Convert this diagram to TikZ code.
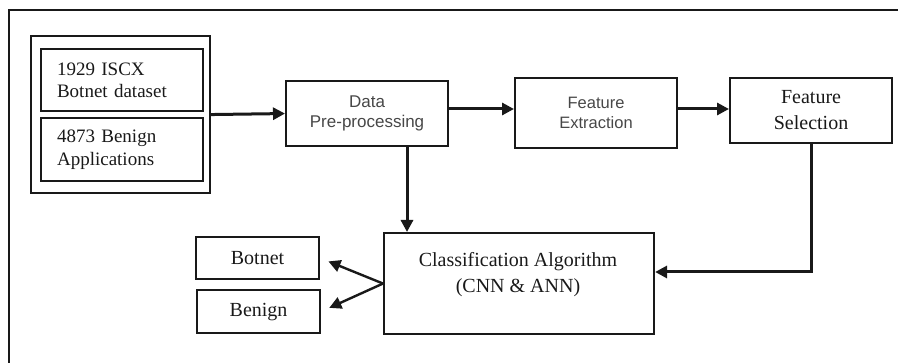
\documentclass[tikz,border=0pt]{standalone}
\usepackage{fontspec}
\setmainfont{Liberation Serif}
\newfontfamily\arialfont{Liberation Sans}
\usetikzlibrary{arrows.meta}

\begin{document}
\begin{tikzpicture}[x=1pt,y=-1pt,
  box/.style={draw=black!90, line width=2.1pt, anchor=north west, inner sep=0pt, align=center},
  link/.style={line width=3pt, draw=black!90, -{Triangle[length=12pt,width=12pt]}},
  serif/.style={font=\fontsize{20}{26}\selectfont, text=black!90},
  sans/.style={font=\arialfont\fontsize{16.5}{19.5}\selectfont, text=black!72}]
\useasboundingbox (0,0) rectangle (898,363);

% partial frame (top and left edges)
\draw[line width=1.6pt, black!90] (9,363) -- (9,10) -- (898,10);

% input data sources
\node[box, minimum width=179, minimum height=157] (grp) at (30,35) {};
\node[box, serif, font=\fontsize{19}{22}\selectfont, align=left, text width=130,
      inner xsep=16, minimum height=62] (isc) at (40,48) {1929 ISCX\\Botnet dataset};
\node[box, serif, font=\fontsize{19}{23}\selectfont, align=left, text width=130,
      inner xsep=16, minimum height=63] (app) at (40,117) {4873 Benign\\Applications};

% processing pipeline
\node[box, sans, font=\arialfont\fontsize{17}{19.5}\selectfont,
      minimum width=162, minimum height=65] (pre) at (285,80) {Data\\Pre-processing};
\node[box, sans, minimum width=162, minimum height=70] (fe) at (514,77) {Feature\\Extraction};
\node[box, serif, minimum width=162, minimum height=65] (fs) at (729,77) {Feature\\Selection};

% classifier and outputs
\node[box, minimum width=270, minimum height=101] (cls) at (383,232) {};
\node[serif, align=center] (clslbl) at (518,275) {Classification Algorithm\\(CNN \& ANN)};
\node[box, serif, minimum width=123, minimum height=42] (bot) at (195,236) {Botnet};
\node[box, serif, minimum width=123, minimum height=43] (bng) at (196,289) {Benign};

% connectors
\coordinate (ay) at (0,109);
\coordinate (dx) at (407,0);
\coordinate (fy) at (0,272);
\draw[link] (grp.east) -- (pre.west);
\draw[link] (pre.east |- ay) -- (fe.west |- ay);
\draw[link] (fe.east |- ay) -- (fs.west |- ay);
\draw[link] (dx |- pre.south) -- (dx |- cls.north);
\draw[link] (fs.south) |- (cls.east |- fy);
\draw[link, line width=2.4pt, shorten >=9pt] (cls.west) -- (bot.east);
\draw[link, line width=2.4pt, shorten >=9pt] (cls.west) -- (bng.east);
\end{tikzpicture}
\end{document}
